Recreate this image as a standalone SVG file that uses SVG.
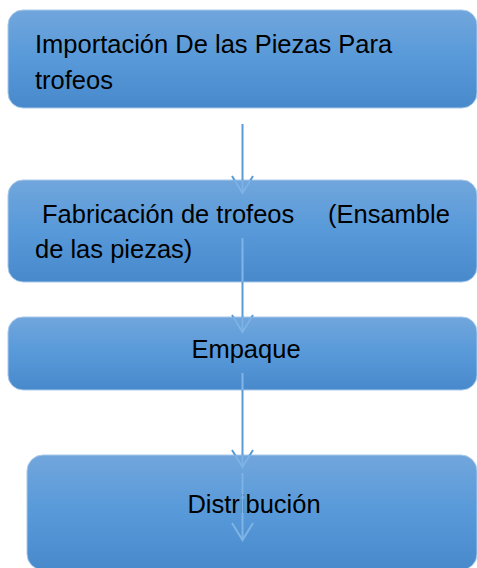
<svg xmlns="http://www.w3.org/2000/svg" width="477" height="568" viewBox="0 0 477 568">
  <style>
    .box { fill: url(#g); stroke: #a9c9ea; stroke-width: 1; }
    .lbl { font-family: "Liberation Sans", Arial, sans-serif; font-size: 25.5px; fill: #000; }
    .conn { stroke: #5b9bd5; stroke-width: 2; fill: none; }
    .conn-in { stroke: #7db3e5; stroke-width: 2; fill: none; }
  </style>
  <defs>
    <linearGradient id="g" x1="0" y1="0" x2="0" y2="1">
      <stop offset="0" stop-color="#71a6dc"/>
      <stop offset="0.5" stop-color="#5799d9"/>
      <stop offset="1" stop-color="#4889cb"/>
    </linearGradient>
    <marker id="ah" viewBox="0 0 20 24" markerWidth="20" markerHeight="24" refX="18" refY="12" orient="auto" markerUnits="userSpaceOnUse">
      <path d="M1,1.5 L18,12 L1,22.5" fill="none" stroke="#5b9bd5" stroke-width="2"/>
    </marker>
    <marker id="ahl" viewBox="0 0 20 24" markerWidth="20" markerHeight="24" refX="18" refY="12" orient="auto" markerUnits="userSpaceOnUse">
      <path d="M1,1.5 L18,12 L1,22.5" fill="none" stroke="#7db3e5" stroke-width="2"/>
    </marker>
    <clipPath id="boxes">
      <rect x="8" y="10" width="469" height="98" rx="15"/>
      <rect x="8" y="180" width="469" height="102" rx="15"/>
      <rect x="8" y="317" width="469" height="73" rx="15"/>
      <rect x="27" y="455" width="450" height="115" rx="16"/>
    </clipPath>
  </defs>

  <g id="node-importacion">
    <rect class="box" x="8" y="10" width="469" height="98" rx="15"/>
    <text class="lbl" x="35" y="53">Importación De las Piezas Para</text>
    <text class="lbl" x="35" y="89">trofeos</text>
  </g>
  <g id="node-fabricacion">
    <rect class="box" x="8" y="180" width="469" height="102" rx="15"/>
    <text class="lbl" x="42" y="223">Fabricación de trofeos<tspan x="328">(Ensamble</tspan></text>
    <text class="lbl" x="35" y="258">de las piezas)</text>
  </g>
  <g id="node-empaque">
    <rect class="box" x="8" y="317" width="469" height="73" rx="15"/>
    <text class="lbl" x="246" y="358" text-anchor="middle">Empaque</text>
  </g>
  <g id="node-distribucion">
    <rect class="box" x="27" y="455" width="450" height="115" rx="16"/>
    <text class="lbl" x="254" y="513" text-anchor="middle">Distribución</text>
  </g>

  <g id="connectors">
    <line class="conn" x1="242.5" y1="124" x2="242.5" y2="193" marker-end="url(#ah)"/>
    <line class="conn" x1="242.5" y1="238" x2="242.5" y2="332" marker-end="url(#ah)"/>
    <line class="conn" x1="242.5" y1="373" x2="242.5" y2="467" marker-end="url(#ah)"/>
    <line class="conn" x1="242.5" y1="473" x2="242.5" y2="540" marker-end="url(#ah)"/>
    <g clip-path="url(#boxes)">
      <line class="conn-in" x1="242.5" y1="124" x2="242.5" y2="193" marker-end="url(#ahl)"/>
      <line class="conn-in" x1="242.5" y1="238" x2="242.5" y2="332" marker-end="url(#ahl)"/>
      <line class="conn-in" x1="242.5" y1="373" x2="242.5" y2="467" marker-end="url(#ahl)"/>
      <line class="conn-in" x1="242.5" y1="473" x2="242.5" y2="540" marker-end="url(#ahl)"/>
    </g>
  </g>
</svg>
